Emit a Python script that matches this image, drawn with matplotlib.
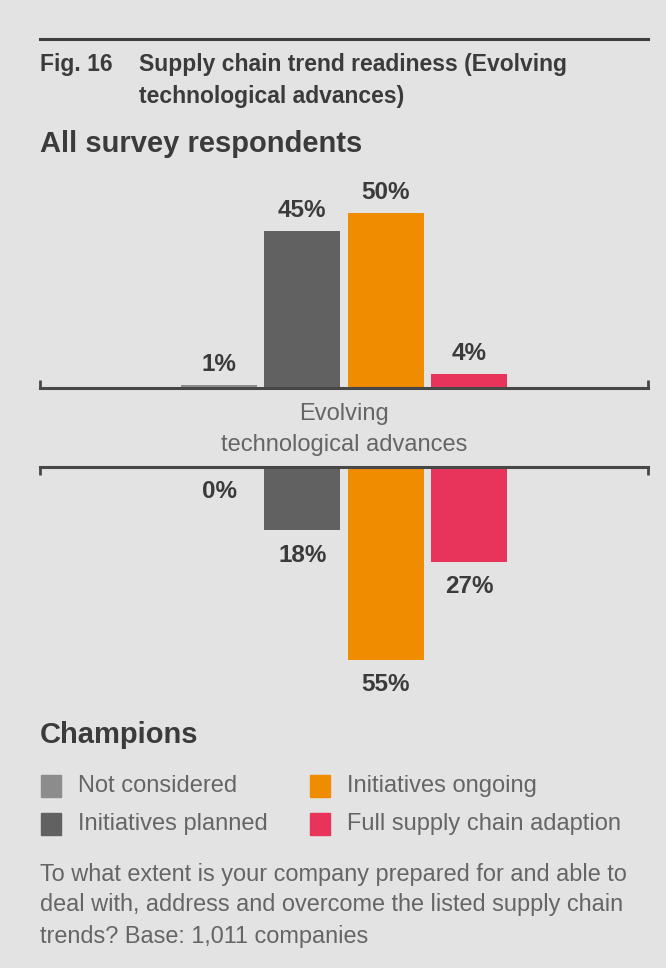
import matplotlib
matplotlib.use("Agg")
from matplotlib import pyplot as plt
from matplotlib.patches import Rectangle

plt.rcParams['font.family'] = ['Liberation Sans', 'DejaVu Sans']

# readiness shares, in percent
statuses = ['Not considered', 'Initiatives planned', 'Initiatives ongoing', 'Full supply chain adaption']
all_respondents = [1, 45, 50, 4]
champions = [0, 18, 55, 27]
colors = ['#8c8c8c', '#616161', '#f08c00', '#e8335a']
trend_lines = ['Evolving', 'technological advances']
note_lines = ['To what extent is your company prepared for and able to',
              'deal with, address and overcome the listed supply chain',
              'trends? Base: 1,011 companies']

bg = '#e3e3e3'
dark = '#3b3b3b'
grey_text = '#656565'

W, H = 666, 968
fig = plt.figure(figsize=(W / 100, H / 100), dpi=100, facecolor=bg)


def fx(px):
    return px / W


def fy(py):
    return 1 - py / H


# header rule and titles
fig.add_artist(plt.Line2D([fx(40), fx(648)], [fy(39), fy(39)], color='#3f3f3f', lw=2.2))
fig.text(fx(40), fy(65), 'Fig. 16', fontsize=16.5, fontweight='bold', color=dark, va='center')
fig.text(fx(139), fy(65), 'Supply chain trend readiness (Evolving', fontsize=16.5,
         fontweight='bold', color=dark, va='center')
fig.text(fx(139), fy(96), 'technological advances)', fontsize=16.5,
         fontweight='bold', color=dark, va='center')
fig.text(fx(40), fy(144), 'All survey respondents', fontsize=21, fontweight='bold',
         color=dark, va='center')
fig.text(fx(40), fy(735), 'Champions', fontsize=21, fontweight='bold', color=dark, va='center')

xs = range(len(statuses))
x_lo, x_hi = -2.15, 5.15
scale = 3.5  # px per percent

# upper panel: all respondents, bars grow upward
top_h = 60 * scale
ax1 = fig.add_axes([fx(40), fy(388), fx(648) - fx(40), top_h / H])
bars = ax1.bar(xs, all_respondents, width=0.91, color=colors)
for b, v in zip(bars, all_respondents):
    ax1.annotate(f'{v}%', (b.get_x() + b.get_width() / 2, v), xytext=(0, 14.5),
                 textcoords='offset points', ha='center', va='center',
                 fontsize=17.5, fontweight='bold', color=dark)
ax1.set_ylim(0, 60)

# lower panel: champions, bars hang downward
ax2 = fig.add_axes([fx(40), fy(467) - top_h / H, fx(648) - fx(40), top_h / H])
bars = ax2.bar(xs, [-v for v in champions], width=0.91, color=colors)
for b, v in zip(bars, champions):
    ax2.annotate(f'{v}%', (b.get_x() + b.get_width() / 2, -v), xytext=(0, -18),
                 textcoords='offset points', ha='center', va='center',
                 fontsize=17.5, fontweight='bold', color=dark)
ax2.set_ylim(-60, 0)

for ax, side in [(ax1, 'bottom'), (ax2, 'top')]:
    ax.set_xlim(x_lo, x_hi)
    ax.set_facecolor('none')
    for s in ax.spines.values():
        s.set_visible(False)
    ax.spines[side].set_visible(True)
    ax.spines[side].set_color('#474747')
    ax.spines[side].set_linewidth(2.2)
    ax.spines[side].set_zorder(3)
    ax.set_yticks([])
    ax.set_xticks([x_lo, x_hi])
    ax.tick_params(axis='x', direction='in', length=6, width=2, color='#474747',
                   bottom=(side == 'bottom'), top=(side == 'top'),
                   labelbottom=False, labeltop=False)

for line, py in zip(trend_lines, [414, 445]):
    fig.text(fx(344), fy(py), line, ha='center', va='center', fontsize=17, color=grey_text)

# legend: two columns of swatches
legend_pos = [(41, 786), (41, 824), (310, 786), (310, 824)]
for (px, py), label, c in zip(legend_pos, statuses, colors):
    fig.add_artist(Rectangle((fx(px), fy(py + 11)), 20 / W, 22 / H, color=c,
                             transform=fig.transFigure))
    fig.text(fx(px + 37), fy(py), label, fontsize=17, color=grey_text, va='center')

for line, py in zip(note_lines, [874, 905, 936]):
    fig.text(fx(40), fy(py), line, fontsize=16.9, color=grey_text, va='center')

fig.savefig('out.png', dpi=100, facecolor=bg)
